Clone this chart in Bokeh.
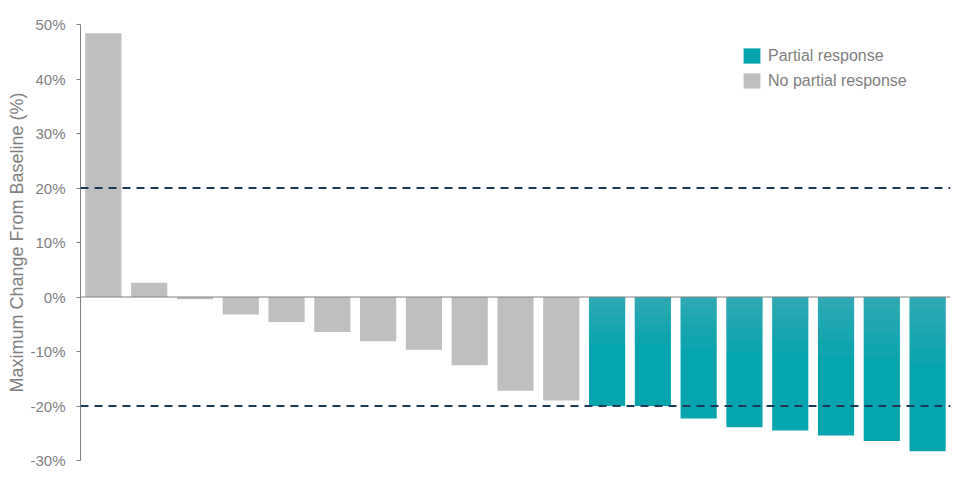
from bokeh.plotting import figure
from bokeh.models import Range1d, Span, Legend, LegendItem, PrintfTickFormatter, FixedTicker
from bokeh.embed import file_html
from bokeh.resources import INLINE

# Data
patients = list(range(19))
values = [48.4, 2.6, -0.4, -3.2, -4.6, -6.4, -8.1, -9.7, -12.5, -17.2, -19.0,
          -20.0, -20.0, -22.3, -23.9, -24.5, -25.4, -26.4, -28.3]
response = ["No partial response"] * 11 + ["Partial response"] * 8
y_ticks = [-30, -20, -10, 0, 10, 20, 30, 40, 50]
threshold_lines = [20, -20]

TEAL = "#05a4ae"
SHEEN = "#8fbfc5"
GREY = "#bfbfbf"
TXT = "#7f7f7f"
FONT = "Liberation Sans"

pr_x = [x for x, r in zip(patients, response) if r == "Partial response"]
pr_y = [v for v, r in zip(values, response) if r == "Partial response"]
np_x = [x for x, r in zip(patients, response) if r != "Partial response"]
np_y = [v for v, r in zip(values, response) if r != "Partial response"]

p = figure(width=955, height=474, output_backend="svg", toolbar_location=None,
           x_range=Range1d(-0.5, 18.5), y_range=Range1d(-30, 50),
           min_border_left=80, min_border_right=5, min_border_top=24, min_border_bottom=14)
p.outline_line_color = None
p.background_fill_color = "white"
p.xgrid.visible = False
p.ygrid.visible = False
p.xaxis.visible = False

r_np = p.vbar(x=np_x, top=np_y, bottom=0, width=0.79, fill_color=GREY, line_color=None)
r_pr = p.vbar(x=pr_x, top=pr_y, bottom=0, width=0.79, fill_color=TEAL, line_color=None)
# soft light band near the top of the teal bars (gradient look)
for f in [0.08, 0.16, 0.24, 0.32, 0.42]:
    p.vbar(x=pr_x, top=0, bottom=[v * f for v in pr_y], width=0.79,
           fill_color=SHEEN, fill_alpha=0.07, line_color=None)

p.add_layout(Span(location=0, dimension="width", line_color="#808080", line_width=1))
for t in threshold_lines:
    p.add_layout(Span(location=t, dimension="width", line_color="#1b3a56",
                      line_width=2, line_dash="8 6"))

yax = p.yaxis[0]
yax.ticker = FixedTicker(ticks=y_ticks)
yax.formatter = PrintfTickFormatter(format="%d%%")
yax.axis_label = "Maximum Change From Baseline (%)"
yax.axis_label_text_font = FONT
yax.axis_label_text_font_style = "normal"
yax.axis_label_text_font_size = "18px"
yax.axis_label_text_color = TXT
yax.axis_label_standoff = 0
yax.major_label_text_font = FONT
yax.major_label_text_font_size = "15px"
yax.major_label_text_color = TXT
yax.major_label_standoff = 11
yax.axis_line_color = "#808080"
yax.major_tick_line_color = "#808080"
yax.major_tick_out = 4
yax.major_tick_in = 0
yax.minor_tick_line_color = None

legend = Legend(items=[LegendItem(label="Partial response", renderers=[r_pr]),
                       LegendItem(label="No partial response", renderers=[r_np])],
                location=(661, 370), padding=0, spacing=6, glyph_width=21, glyph_height=19,
                label_height=19, label_standoff=6, label_text_font=FONT,
                label_text_font_size="16px", label_text_color=TXT,
                border_line_color=None, background_fill_alpha=0)
p.add_layout(legend)

open("out.html", "w").write(file_html(p, INLINE))
